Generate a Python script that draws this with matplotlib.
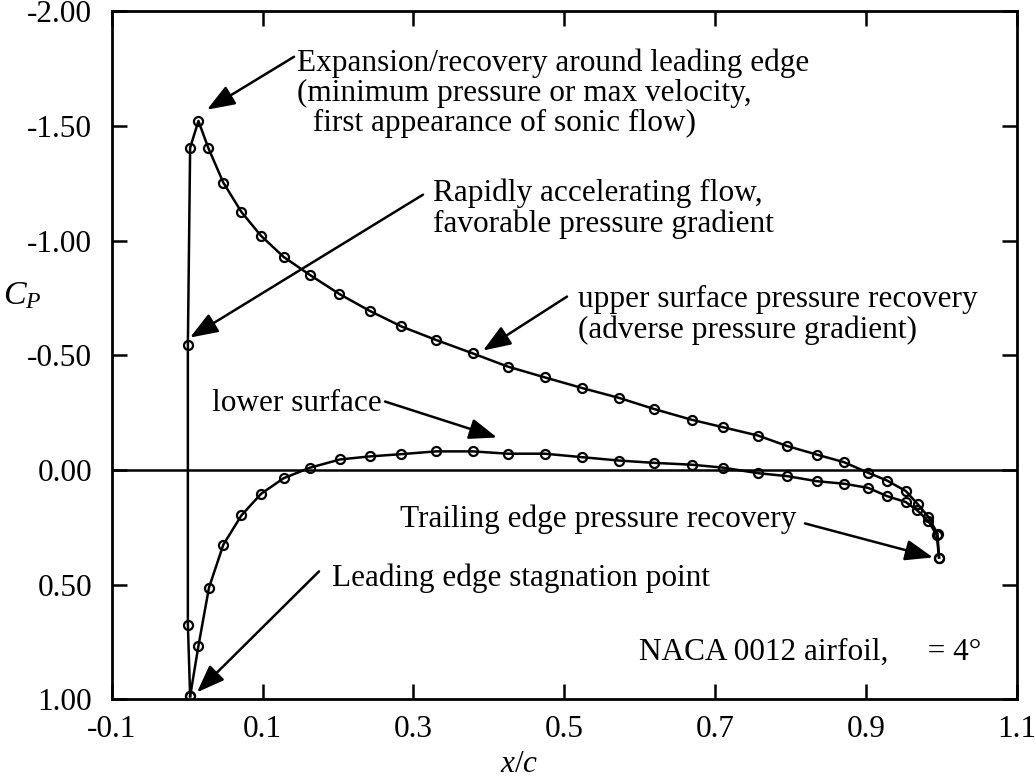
import matplotlib
matplotlib.use("Agg")
import matplotlib.pyplot as plt

plt.rcParams['font.family'] = ['Liberation Serif', 'DejaVu Serif']
plt.rcParams['mathtext.fontset'] = 'custom'
plt.rcParams['mathtext.rm'] = 'Liberation Serif'
plt.rcParams['mathtext.it'] = 'Liberation Serif:italic'

# ---- data ----
upper_x = [0.004, 0.001, 0.001, 0.004, 0.015, 0.028, 0.048, 0.072, 0.098, 0.128,
           0.163, 0.202, 0.242, 0.284, 0.330, 0.379, 0.425, 0.474, 0.523, 0.573,
           0.619, 0.669, 0.711, 0.757, 0.796, 0.835, 0.871, 0.903, 0.928, 0.953,
           0.969, 0.983, 0.995, 0.997]
upper_cp = [0.987, 0.674, -0.546, -1.405, -1.522, -1.405, -1.253, -1.125, -1.021, -0.929,
            -0.850, -0.767, -0.694, -0.626, -0.567, -0.508, -0.451, -0.404, -0.358, -0.314,
            -0.266, -0.219, -0.186, -0.150, -0.104, -0.067, -0.034, 0.012, 0.046, 0.092,
            0.150, 0.205, 0.278, 0.382]

lower_x = [0.004, 0.015, 0.029, 0.048, 0.072, 0.098, 0.128, 0.163, 0.203, 0.242,
           0.284, 0.330, 0.379, 0.425, 0.474, 0.523, 0.573, 0.619, 0.669, 0.711,
           0.757, 0.796, 0.835, 0.871, 0.903, 0.928, 0.953, 0.968, 0.983, 0.994,
           0.997]
lower_cp = [0.987, 0.767, 0.513, 0.326, 0.198, 0.104, 0.036, -0.010, -0.046, -0.059,
            -0.069, -0.081, -0.081, -0.071, -0.071, -0.056, -0.041, -0.031, -0.023, -0.010,
            0.014, 0.027, 0.049, 0.060, 0.078, 0.114, 0.140, 0.176, 0.223, 0.285,
            0.382]

x_ticks = [-0.1, 0.1, 0.3, 0.5, 0.7, 0.9, 1.1]
x_tick_labels = ["-0.1", "0.1", "0.3", "0.5", "0.7", "0.9", "1.1"]
y_ticks = [-2.0, -1.5, -1.0, -0.5, 0.0, 0.5, 1.0]
y_tick_labels = ["-2.00", "-1.50", "-1.00", "-0.50", "0.00", "0.50", "1.00"]

FS = 22.5

fig = plt.figure(figsize=(10.35, 7.82), dpi=100)
ax = fig.add_axes([111.7 / 1035, 1 - 699.3 / 782, 905 / 1035, 688 / 782])

ax.axhline(0.0, color='k', lw=1.8, zorder=1)
mk = dict(marker='o', markersize=6.5, markerfacecolor='none', markeredgecolor='k',
          markeredgewidth=1.6, color='k', lw=1.8, zorder=3)
ax.plot(upper_x, upper_cp, **mk)
ax.plot(lower_x, lower_cp, **mk)

ax.set_xlim(-0.1, 1.1)
ax.set_ylim(1.0, -2.0)
ax.set_xticks(x_ticks)
ax.set_xticklabels(x_tick_labels)
ax.set_yticks(y_ticks)
ax.set_yticklabels(y_tick_labels)
ax.tick_params(direction='in', length=11, width=1.8, top=True, right=True,
               labelsize=FS)
ax.tick_params(axis='x', pad=11)
ax.tick_params(axis='y', pad=14)
for s in ax.spines.values():
    s.set_linewidth(2.0)


def px2data(px, py):
    # pixel coordinates of the reference -> data coordinates
    return ((px - 187.1) / 754.2, (py - 469.5) / 229.5)


arrow_kw = dict(arrowstyle='-|>,head_length=0.85,head_width=0.32', color='k', lw=1.8,
                shrinkA=0, shrinkB=0, mutation_scale=20)


def arrow(tail, tip):
    ax.annotate('', xy=px2data(*tip), xytext=px2data(*tail),
                arrowprops=arrow_kw, zorder=4)


def label(px, py, s):
    ax.text(*px2data(px, py), s, fontsize=FS, ha='left', va='baseline')


# Annotations
label(297, 70, "Expansion/recovery around leading edge")
label(297, 100, "(minimum pressure or max velocity,")
label(297, 130, "  first appearance of sonic flow)")
arrow((294, 56), (207, 109))

label(433, 200, "Rapidly accelerating flow,")
label(433, 231, "favorable pressure gradient")
arrow((423, 194), (190, 337))

label(578, 306, "upper surface pressure recovery")
label(578, 337, "(adverse pressure gradient)")
arrow((567, 296), (483, 350))

label(212, 410, "lower surface")
arrow((385, 401), (497, 437))

label(400, 527, "Trailing edge pressure recovery")
arrow((805, 523), (933, 557))

label(332, 586, "Leading edge stagnation point")
arrow((319, 571), (197, 692))

label(639, 659, "NACA 0012 airfoil,     = 4°")

fig.text(22 / 1035, 1 - 296 / 782, r'$C_P$', fontsize=FS + 2, ha='center', va='center')
fig.text(519 / 1035, 1 - 765 / 782, r'$x/c$', fontsize=FS, ha='center', va='center')

fig.savefig('out.png', dpi=100)
